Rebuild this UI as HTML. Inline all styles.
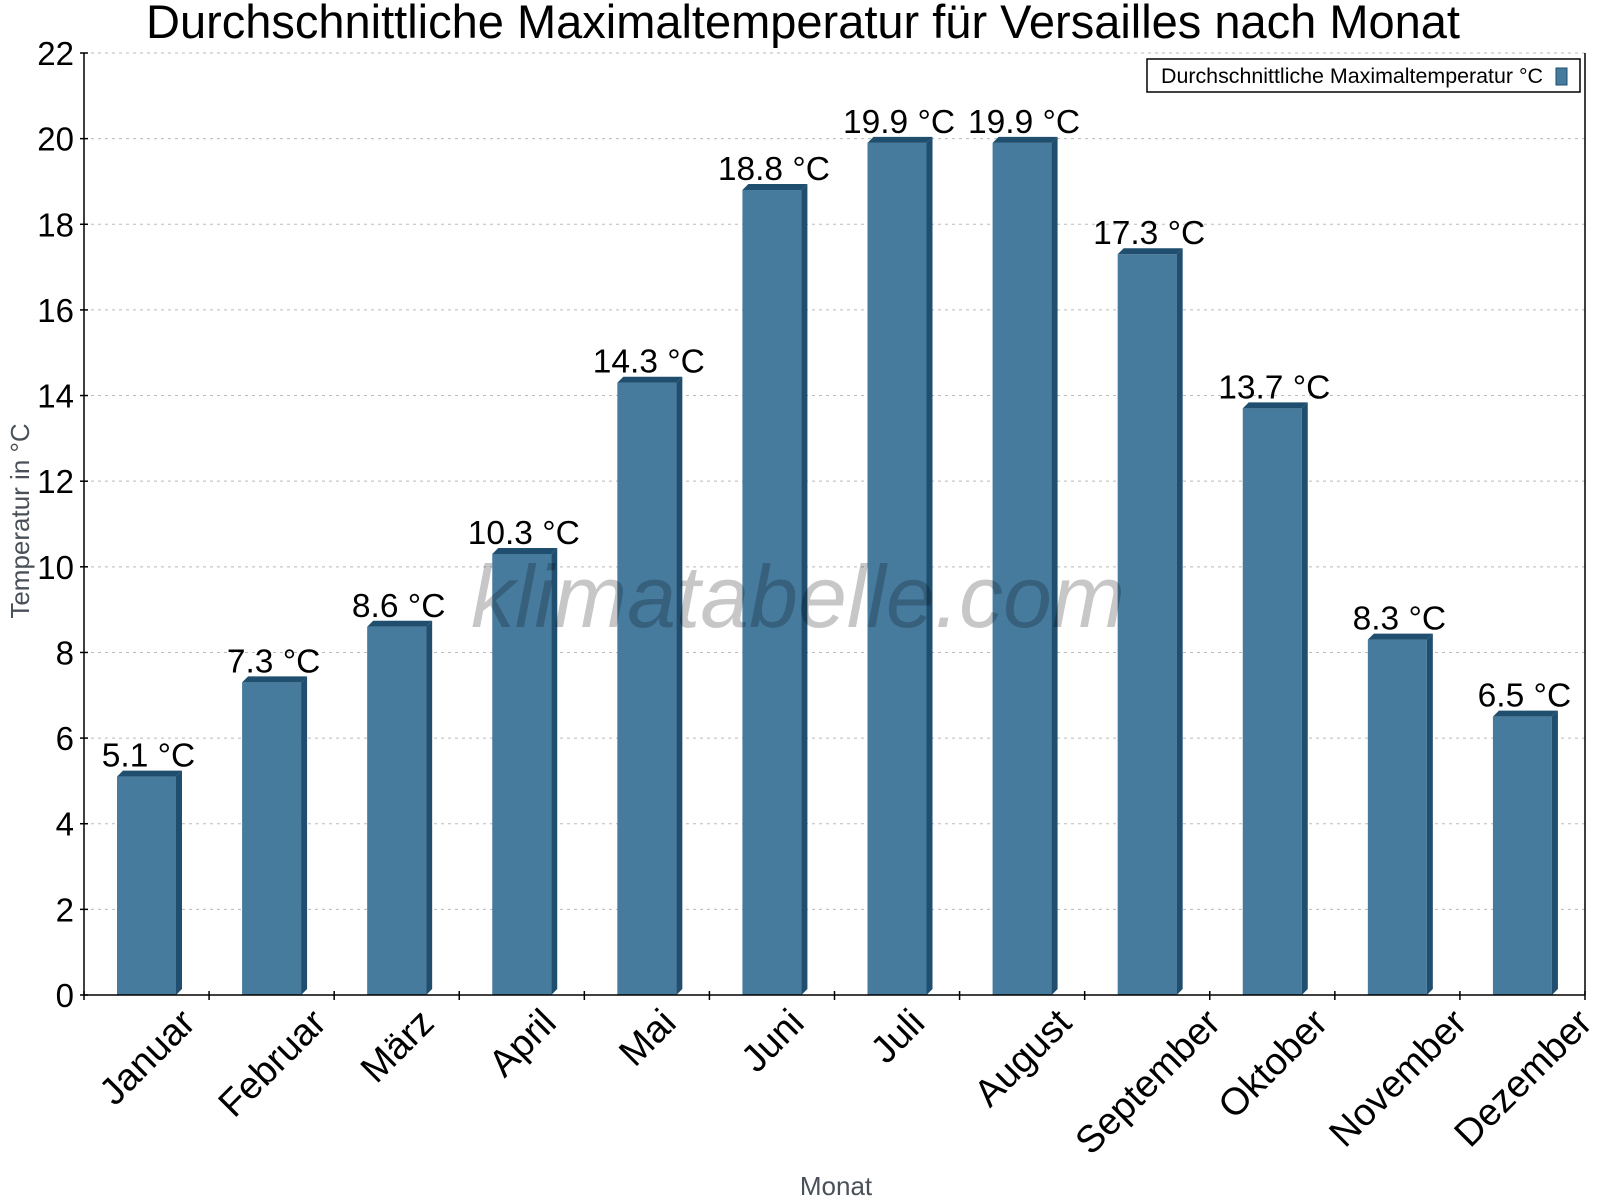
<!DOCTYPE html>
<html><head><meta charset="utf-8"><style>
html,body{margin:0;padding:0;background:#fff}
svg{display:block;font-family:"Liberation Sans",sans-serif}
</style></head><body>
<svg id="chart" width="1600" height="1200" viewBox="0 0 1600 1200" xmlns="http://www.w3.org/2000/svg">
<text x="803" y="38" font-size="47" text-anchor="middle" fill="#000">Durchschnittliche Maximaltemperatur für Versailles nach Monat</text>
<g id="grid"></g>
<g id="bars"></g>
<text x="471" y="627" font-size="88" font-style="italic" textLength="654" lengthAdjust="spacingAndGlyphs" fill="#000" fill-opacity="0.22">klimatabelle.com</text>
<g id="labels"></g>
<g id="axes"></g>
<text transform="translate(29,521) rotate(-90)" font-size="26" text-anchor="middle" fill="#4a5058">Temperatur in °C</text>
<text x="836" y="1195" font-size="26" text-anchor="middle" fill="#4a5058">Monat</text>
<g>
<rect x="1147" y="59" width="433" height="33" fill="#fff" stroke="#000" stroke-width="1.5"/>
<text x="1161" y="83" font-size="21" fill="#000" textLength="382" lengthAdjust="spacingAndGlyphs">Durchschnittliche Maximaltemperatur °C</text>
<rect x="1556" y="68" width="11" height="17" fill="#467b9e" stroke="#1f4e6e" stroke-width="1"/>
</g>
</svg>
<script>
const categories = ["Januar","Februar","März","April","Mai","Juni","Juli","August","September","Oktober","November","Dezember"];
const values = [5.1,7.3,8.6,10.3,14.3,18.8,19.9,19.9,17.3,13.7,8.3,6.5];
const yTicks = [0,2,4,6,8,10,12,14,16,18,20,22];
const valueLabels = ["5.1 °C","7.3 °C","8.6 °C","10.3 °C","14.3 °C","18.8 °C","19.9 °C","19.9 °C","17.3 °C","13.7 °C","8.3 °C","6.5 °C"];

const NS="http://www.w3.org/2000/svg";
const L=84,R=1585,T=53,B=995,YMAX=22;
const cw=(R-L)/categories.length;
function y(v){return B-(v/YMAX)*(B-T);}
function xs(i){return L+i*cw;}
function mk(tag,attrs,parent){const e=document.createElementNS(NS,tag);for(const k in attrs)e.setAttribute(k,attrs[k]);parent.appendChild(e);return e;}
const grid=document.getElementById('grid'),bars=document.getElementById('bars'),labels=document.getElementById('labels'),axes=document.getElementById('axes');

yTicks.forEach(t=>{
  if(t>0){const g=mk('line',{x1:L,x2:R,y1:y(t),y2:y(t),stroke:'#bbb','stroke-dasharray':'3,4','stroke-width':1},grid);
  
  }
  const tk=mk('line',{x1:L-4,x2:L+4,y1:y(t),y2:y(t),stroke:'#000','stroke-width':1.5},axes);
  
  
  const tl=mk('text',{x:L-10,y:y(t)+12,'font-size':33,'text-anchor':'end',fill:'#000'},axes);
  tl.textContent=t;
  
  
});

values.forEach((v,i)=>{
  const x0=xs(i)+33,w=59,d=6,yt=y(v);
  const g=mk('g',{},bars);
  
  
  mk('rect',{x:x0,y:yt,width:w,height:B-yt,fill:'#467b9e'},g);
  mk('polygon',{points:`${x0+w},${yt} ${x0+w+d},${yt-d} ${x0+w+d},${B-d} ${x0+w},${B}`,fill:'#1f4e6e'},g);
  mk('polygon',{points:`${x0},${yt} ${x0+d},${yt-d} ${x0+w+d},${yt-d} ${x0+w},${yt}`,fill:'#1f4e6e'},g);
  const lb=mk('text',{x:x0+w/2+2,y:yt-10,'font-size':33.5,'text-anchor':'middle',fill:'#000'},labels);
  lb.textContent=valueLabels[i];
  
  
  const c=xs(i)+cw/2;
  const xl=mk('text',{'font-size':38,'text-anchor':'end',fill:'#000'},axes);
  xl.textContent=categories[i];
  
  
  const tw=xl.getComputedTextLength();
  const ex=c+(tw+27)*0.3535;
  xl.setAttribute('transform',`translate(${ex},1025) rotate(-45)`);
});
for(let i=0;i<=categories.length;i++){
  const tk=mk('line',{x1:xs(i),x2:xs(i),y1:B-4,y2:B+5,stroke:'#000','stroke-width':1.5},axes);
  
  
}
const ya=mk('line',{x1:L,x2:L,y1:T,y2:B,stroke:'#000','stroke-width':1.5},axes);


const xa=mk('line',{x1:L,x2:R,y1:B,y2:B,stroke:'#000','stroke-width':1.5},axes);


const ra=mk('line',{x1:R,x2:R,y1:T,y2:B,stroke:'#000','stroke-width':1.5},axes);


</script>
</body></html>
